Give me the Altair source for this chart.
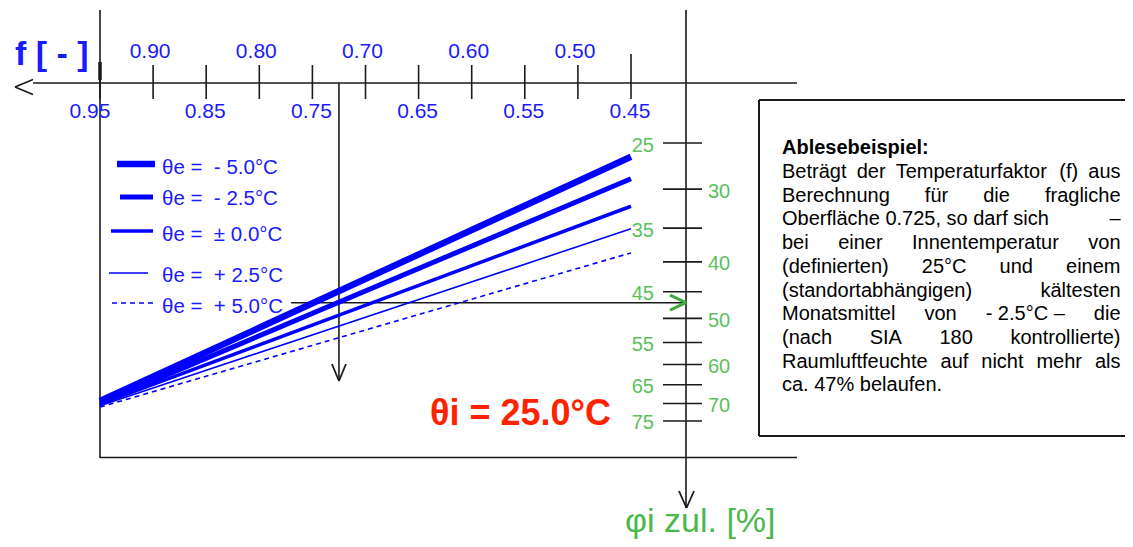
import math
import altair as alt
import pandas as pd

# ---------------- data ----------------
F_TICKS = [0.95, 0.90, 0.85, 0.80, 0.75, 0.70, 0.65, 0.60, 0.55, 0.50, 0.45]
F_UPPER_VALUES = [0.90, 0.80, 0.70, 0.60, 0.50]
F_UPPER_LABELS = ["0.90", "0.80", "0.70", "0.60", "0.50"]
F_LOWER_VALUES = [0.95, 0.85, 0.75, 0.65, 0.55, 0.45]
F_LOWER_LABELS = ["0.95", "0.85", "0.75", "0.65", "0.55", "0.45"]

PHI_TICKS = [25, 30, 35, 40, 45, 50, 55, 60, 65, 70, 75]
PHI_LEFT_LABELS = [25, 35, 45, 55, 65, 75]
PHI_RIGHT_LABELS = [30, 40, 50, 60, 70]

SERIES = [
    "θe =\u00a0\u00a0- 5.0°C",
    "θe =\u00a0\u00a0- 2.5°C",
    "θe =\u00a0\u00a0± 0.0°C",
    "θe =\u00a0\u00a0+ 2.5°C",
    "θe =\u00a0\u00a0+ 5.0°C",
]
F_ENDS = [0.95, 0.45]
PHI_AT_F095 = [69.3, 69.9, 70.2, 70.6, 71.0]
PHI_AT_F045 = [26.4, 28.8, 32.1, 35.1, 38.6]

F_EXAMPLE = 0.725
PHI_EXAMPLE = 47
F_EXAMPLE_LINE_START = 0.77

TITLE_F = "f [ - ]"
TITLE_PHI = "φi zul. [%]"
LABEL_THETA_I = "θi = 25.0°C"
BOX_TITLE = "Ablesebeispiel:"
BOX_LINES = [
    ["Beträgt", "der", "Temperaturfaktor", "(f)", "aus"],
    ["Berechnung", "für", "die", "fragliche"],
    ["Oberfläche 0.725, so darf sich", "–"],
    ["bei", "einer", "Innentemperatur", "von"],
    ["(definierten)", "25°C", "und", "einem"],
    ["(standortabhängigen)", "kältesten"],
    ["Monatsmittel", "von", "- 2.5°C –", "die"],
    ["(nach", "SIA", "180", "kontrollierte)"],
    ["Raumluftfeuchte", "auf", "nicht", "mehr", "als"],
]
BOX_LAST = "ca. 47% belaufen."

# ---------------- styles / layout ----------------
W, H = 1117, 531
OFF = 8
FONT = "Liberation Sans"
BLACK = "#1a1a1a"
BLUE = "#0000ff"
BLUE_TXT = "#1a1aff"
GREEN_TXT = "#5cbf5c"
GREEN_TITLE = "#4cb84c"
GREEN_ARROW = "#3faa3f"
RED = "#ff2200"

LINE_W = [6.5, 5.0, 3.5, 1.6, 1.6]
LINE_DASH = [None, None, None, None, [5, 4]]
LEG_X = [(117, 155), (120, 153), (111, 153), (109, 148), (112, 153)]
LEG_LINE_Y = [164, 197, 231, 273, 303]
LEG_TEXT_Y = [173.5, 205, 241, 281.5, 313]


def P(v):
    return v - OFF


# x: linear f scale (reversed), y: log phi scale (reversed)
PX_PER_F = 1062.0
X_AT_095 = P(100)
f_hi = 0.95 + X_AT_095 / PX_PER_F
f_lo = 0.95 - (W - X_AT_095) / PX_PER_F
xs = alt.Scale(domain=[f_lo, f_hi], reverse=True, nice=False, zero=False)

PX_PER_LN = 253.0
Y_AT_25 = P(143)
phi_lo = 25 * math.exp(-Y_AT_25 / PX_PER_LN)
phi_hi = 25 * math.exp((H - Y_AT_25) / PX_PER_LN)
ys = alt.Scale(type="log", domain=[phi_lo, phi_hi], reverse=True, nice=False)

ONE = pd.DataFrame({"k": [0]})


def X(field):
    return alt.X(field, scale=xs, axis=None)


def Y(field):
    return alt.Y(field, scale=ys, axis=None)


def seg(x1, y1, x2, y2, color=BLACK, w=1.6):
    return alt.Chart(ONE).mark_rule(color=color, strokeWidth=w, strokeCap="butt").encode(
        x=alt.value(P(x1)), y=alt.value(P(y1)), x2=alt.value(P(x2)), y2=alt.value(P(y2))
    )


def label(text, x, y, size, color, align="left", weight="normal"):
    return alt.Chart(ONE).mark_text(
        text=text, font=FONT, fontSize=size, color=color, align=align,
        baseline="alphabetic", fontWeight=weight,
    ).encode(x=alt.value(P(x)), y=alt.value(P(y)))


layers = []

# frame and axes lines
layers.append(
    alt.Chart(pd.DataFrame({"f": [F_TICKS[0]]})).mark_rule(color=BLACK, strokeWidth=1.6).encode(
        x=X("f:Q"), y=alt.value(P(10)), y2=alt.value(P(458)))
)
layers.append(
    alt.Chart(pd.DataFrame({"f": [F_TICKS[0]]})).mark_rule(color=BLACK, strokeWidth=3.5).encode(
        x=X("f:Q"), y=alt.value(P(62)), y2=alt.value(P(80)))
)
layers.append(seg(100, 457.5, 797, 457.5))
layers.append(seg(33, 83, 797, 83))
layers.append(seg(33, 79.5, 15, 87))
layers.append(seg(15, 87, 33, 94.5))
layers.append(seg(686, 10, 686, 508))
layers.append(seg(679, 491, 686.5, 508, w=1.8))
layers.append(seg(694, 491, 686.5, 508, w=1.8))

# f ticks
layers.append(
    alt.Chart(pd.DataFrame({"f": F_TICKS})).mark_rule(color=BLACK, strokeWidth=1.6).encode(
        x=X("f:Q"), y=alt.value(P(65)), y2=alt.value(P(99)))
)
layers.append(
    alt.Chart(pd.DataFrame({"f": [F_TICKS[-1]]})).mark_rule(color=BLACK, strokeWidth=1.6).encode(
        x=X("f:Q"), y=alt.value(P(54)), y2=alt.value(P(65)))
)
# f labels
layers.append(
    alt.Chart(pd.DataFrame({"f": F_UPPER_VALUES, "t": F_UPPER_LABELS})).mark_text(
        font=FONT, fontSize=21, color=BLUE_TXT, align="center", baseline="alphabetic", dx=-3
    ).encode(x=X("f:Q"), y=alt.value(P(58)), text="t:N")
)
layers.append(
    alt.Chart(pd.DataFrame({"f": F_LOWER_VALUES[1:], "t": F_LOWER_LABELS[1:]})).mark_text(
        font=FONT, fontSize=21, color=BLUE_TXT, align="center", baseline="alphabetic", dx=-1
    ).encode(x=X("f:Q"), y=alt.value(P(118)), text="t:N")
)
layers.append(
    alt.Chart(pd.DataFrame({"f": F_LOWER_VALUES[:1], "t": F_LOWER_LABELS[:1]})).mark_text(
        font=FONT, fontSize=21, color=BLUE_TXT, align="center", baseline="alphabetic", dx=-10
    ).encode(x=X("f:Q"), y=alt.value(P(118)), text="t:N")
)

# phi ticks + labels
layers.append(
    alt.Chart(pd.DataFrame({"phi": PHI_TICKS})).mark_rule(color=BLACK, strokeWidth=1.6).encode(
        x=alt.value(P(663)), x2=alt.value(P(702)), y=Y("phi:Q"))
)
layers.append(
    alt.Chart(pd.DataFrame({"phi": PHI_LEFT_LABELS})).mark_text(
        font=FONT, fontSize=20, color=GREEN_TXT, align="right", baseline="alphabetic", dy=8.5
    ).encode(x=alt.value(P(654)), y=Y("phi:Q"), text="phi:Q")
)
layers.append(
    alt.Chart(pd.DataFrame({"phi": PHI_RIGHT_LABELS})).mark_text(
        font=FONT, fontSize=20, color=GREEN_TXT, align="left", baseline="alphabetic", dy=8.5
    ).encode(x=alt.value(P(708)), y=Y("phi:Q"), text="phi:Q")
)

# example reading lines
layers.append(
    alt.Chart(pd.DataFrame({"f": [F_EXAMPLE]})).mark_rule(color=BLACK, strokeWidth=1.6).encode(
        x=X("f:Q"), y=alt.value(P(83)), y2=alt.value(P(381)))
)
dv = 7.0 / PX_PER_F
layers.append(
    alt.Chart(pd.DataFrame({"fa": [F_EXAMPLE - dv, F_EXAMPLE + dv], "fb": [F_EXAMPLE, F_EXAMPLE]}))
    .mark_rule(color=BLACK, strokeWidth=1.8)
    .encode(x=X("fa:Q"), x2="fb:Q", y=alt.value(P(364)), y2=alt.value(P(381)))
)
layers.append(
    alt.Chart(pd.DataFrame({"f": [F_EXAMPLE_LINE_START], "phi": [PHI_EXAMPLE]}))
    .mark_rule(color=BLACK, strokeWidth=1.6)
    .encode(x=X("f:Q"), x2=alt.value(P(686)), y=Y("phi:Q"))
)
dp = 7.5 / PX_PER_LN
layers.append(
    alt.Chart(pd.DataFrame({
        "pa": [PHI_EXAMPLE * math.exp(-dp), PHI_EXAMPLE * math.exp(dp)],
        "pb": [PHI_EXAMPLE, PHI_EXAMPLE],
    }))
    .mark_rule(color=GREEN_ARROW, strokeWidth=3)
    .encode(x=alt.value(P(670)), x2=alt.value(P(686)), y=Y("pa:Q"), y2="pb:Q")
)

# series lines
for i, s in enumerate(SERIES):
    df = pd.DataFrame({"f": F_ENDS, "phi": [PHI_AT_F095[i], PHI_AT_F045[i]], "series": [s, s]})
    kw = dict(color=BLUE, strokeWidth=LINE_W[i], strokeCap="butt")
    if LINE_DASH[i]:
        kw["strokeDash"] = LINE_DASH[i]
    layers.append(alt.Chart(df).mark_line(**kw).encode(x=X("f:Q"), y=Y("phi:Q")))

# manual legend
for i, s in enumerate(SERIES):
    kw = dict(color=BLUE, strokeWidth=LINE_W[i], strokeCap="butt")
    if LINE_DASH[i]:
        kw["strokeDash"] = LINE_DASH[i]
    layers.append(
        alt.Chart(ONE).mark_rule(**kw).encode(
            x=alt.value(P(LEG_X[i][0])), x2=alt.value(P(LEG_X[i][1])),
            y=alt.value(P(LEG_LINE_Y[i])))
    )
    layers.append(label(s, 162, LEG_TEXT_Y[i], 20.5, BLUE_TXT))

# titles
layers.append(label(TITLE_F, 15, 65, 34, BLUE_TXT, weight="bold"))
layers.append(label(LABEL_THETA_I, 430, 425, 36, RED, weight="bold"))
layers.append(label(TITLE_PHI, 625, 532, 34, GREEN_TITLE))

# text box
layers.append(seg(759, 100, 1133, 100, w=2))
layers.append(seg(759, 100, 759, 436, w=2))
layers.append(seg(759, 436, 1133, 436, w=2))

ARIAL = {" ": 278, "(": 333, ")": 333, ",": 278, "-": 333, ".": 278, ":": 278, "%": 889,
         "°": 400, "–": 556, "A": 667, "B": 667, "C": 722, "I": 278, "M": 833, "O": 778,
         "R": 722, "S": 667, "T": 611, "a": 556, "b": 556, "c": 500, "d": 556, "e": 556,
         "f": 278, "g": 556, "h": 556, "i": 222, "k": 500, "l": 222, "m": 833, "n": 556,
         "o": 556, "p": 556, "r": 333, "s": 500, "t": 278, "u": 556, "v": 500, "z": 500,
         "ä": 556, "ü": 556}
for d in "0123456789":
    ARIAL[d] = 556

BOX_SIZE = 20
BOX_LEFT, BOX_RIGHT = 782, 1120.5
BOX_BASE0, BOX_PITCH = 154.3, 23.7


def tw(s):
    return sum(ARIAL.get(ch, 556) for ch in s) * BOX_SIZE / 1000.0


layers.append(label(BOX_TITLE, BOX_LEFT, BOX_BASE0, BOX_SIZE, "#000000", weight="bold"))
for li, words in enumerate(BOX_LINES):
    yb = BOX_BASE0 + BOX_PITCH * (li + 1)
    total = sum(tw(w) for w in words)
    gap = (BOX_RIGHT - BOX_LEFT - total) / (len(words) - 1)
    x = BOX_LEFT
    for w in words:
        layers.append(label(w, x, yb, BOX_SIZE, "#000000"))
        x += tw(w) + gap
layers.append(label(BOX_LAST, BOX_LEFT, BOX_BASE0 + BOX_PITCH * (len(BOX_LINES) + 1), BOX_SIZE, "#000000"))

chart = alt.layer(*layers).properties(
    width=W, height=H, padding=0, autosize=alt.AutoSizeParams(type="none")
).configure_view(strokeWidth=0)

chart.save("out.html", embed_options={"renderer": "svg", "actions": False})
